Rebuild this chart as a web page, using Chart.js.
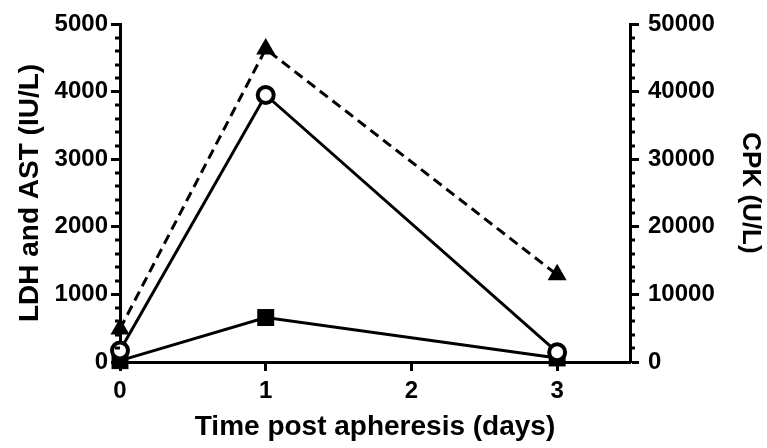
<!DOCTYPE html>
<html>
<head>
<meta charset="utf-8">
<script src="https://cdn.jsdelivr.net/npm/chart.js@4.4.1/dist/chart.umd.min.js"></script>
<style>
    html, body { margin: 0; padding: 0; background: #ffffff; }
    #wrap { width: 767px; height: 448px; position: relative; }
</style>
</head>
<body>
<div id="wrap"><canvas id="chart"></canvas></div>
<script>
// Days after apheresis
const days = [0, 1, 3];
const xTicks = [0, 1, 2, 3];

// LDH and AST on the left axis (IU/L), CPK on the right one (U/L)
const ldh = [170, 3950, 145];
const ast = [20, 658, 60];
const cpk = [4900, 46300, 12900];

const FONT = "'Liberation Sans', Arial, sans-serif";

function toPoints(values) {
    return values.map((v, i) => ({ x: days[i], y: v }));
}

// small ticks between the labelled ones (every 200 / 2000)
const minorTicks = {
    id: 'minorTicks',
    afterDraw(chart) {
        const ctx = chart.ctx;
        ctx.save();
        ctx.strokeStyle = '#000';
        ctx.lineWidth = 3;
        [['y', 200, 5000, -1], ['y1', 2000, 50000, 1]].forEach(([id, step, max, dir]) => {
            const scale = chart.scales[id];
            const x0 = dir < 0 ? scale.right : scale.left;
            for (let v = step; v < max; v += step) {
                if (v % (step * 5) === 0) continue;
                const py = Math.round(scale.getPixelForValue(v));
                ctx.beginPath();
                ctx.moveTo(x0, py);
                ctx.lineTo(x0 + dir * 5, py);
                ctx.stroke();
            }
        });
        ctx.restore();
    }
};

const tickGrid = {
    display: true,
    drawOnChartArea: false,
    drawTicks: true,
    tickLength: 9,
    tickWidth: 3,
    tickColor: '#000'
};

const plain = v => String(v);

const ctx = document.getElementById('chart').getContext('2d');
new Chart(ctx, {
    type: 'line',
    data: {
        datasets: [
            {
                label: 'LDH',
                data: toPoints(ldh),
                yAxisID: 'y',
                borderColor: '#000',
                borderWidth: 3,
                backgroundColor: '#fff',
                pointStyle: 'circle',
                pointRadius: 8,
                pointBorderWidth: 4,
                pointBackgroundColor: '#fff',
                pointBorderColor: '#000',
                tension: 0,
                clip: false
            },
            {
                label: 'AST',
                data: toPoints(ast),
                yAxisID: 'y',
                borderColor: '#000',
                borderWidth: 3,
                pointStyle: 'rect',
                pointRadius: 12,
                pointBorderWidth: 0,
                pointBackgroundColor: '#000',
                tension: 0,
                clip: false
            },
            {
                label: 'CPK',
                data: toPoints(cpk),
                yAxisID: 'y1',
                borderColor: '#000',
                borderWidth: 3,
                borderDash: [10, 6],
                pointStyle: 'triangle',
                pointRadius: 11,
                pointBorderWidth: 0,
                pointBackgroundColor: '#000',
                tension: 0,
                clip: false
            }
        ]
    },
    options: {
        responsive: true,
        maintainAspectRatio: false,
        animation: false,
        layout: { padding: { top: 24, left: 0, right: 0, bottom: 0 } },
        plugins: {
            legend: { display: false },
            tooltip: { enabled: false }
        },
        scales: {
            x: {
                type: 'linear',
                position: 'bottom',
                min: 0,
                max: 3.5,
                afterBuildTicks: scale => { scale.ticks = xTicks.map(v => ({ value: v })); },
                afterFit: scale => { scale.height = 86; },
                grid: tickGrid,
                border: { display: true, width: 3, color: '#000' },
                ticks: {
                    color: '#000',
                    padding: 6,
                    callback: plain,
                    font: { family: FONT, size: 24, weight: 'bold' }
                },
                title: {
                    display: true,
                    text: 'Time post apheresis (days)',
                    color: '#000',
                    padding: { top: 4, bottom: 4 },
                    font: { family: FONT, size: 28, weight: 'bold' }
                }
            },
            y: {
                type: 'linear',
                position: 'left',
                min: 0,
                max: 5000,
                afterFit: scale => { scale.width = 120; },
                grid: tickGrid,
                border: { display: true, width: 3, color: '#000' },
                ticks: {
                    stepSize: 1000,
                    color: '#000',
                    padding: 3,
                    callback: plain,
                    font: { family: FONT, size: 24, weight: 'bold' }
                },
                title: {
                    display: true,
                    text: 'LDH and AST (IU/L)',
                    color: '#000',
                    padding: { top: 13, bottom: 0 },
                    font: { family: FONT, size: 28, weight: 'bold' }
                }
            },
            y1: {
                type: 'linear',
                position: 'right',
                min: 0,
                max: 50000,
                afterFit: scale => { scale.width = 137; },
                grid: tickGrid,
                border: { display: true, width: 3, color: '#000' },
                ticks: {
                    stepSize: 10000,
                    color: '#000',
                    padding: 9,
                    callback: plain,
                    font: { family: FONT, size: 24, weight: 'bold' }
                },
                title: {
                    display: true,
                    text: 'CPK (U/L)',
                    color: '#000',
                    padding: { top: 1, bottom: 0 },
                    font: { family: FONT, size: 26, weight: 'bold' }
                }
            }
        }
    },
    plugins: [minorTicks]
});
</script>
</body>
</html>
